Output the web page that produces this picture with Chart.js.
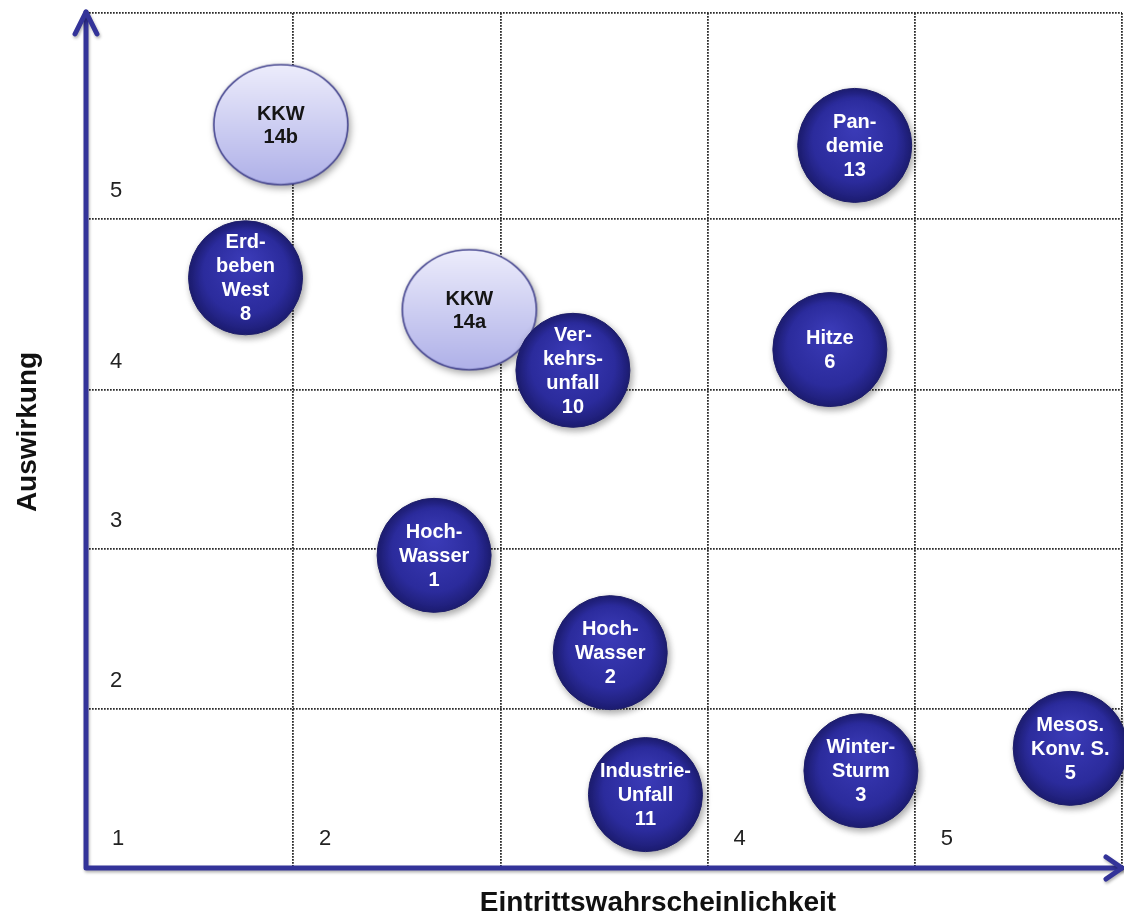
<!DOCTYPE html>
<html lang="de">
<head>
<meta charset="utf-8">
<title>Risikomatrix</title>
<script src="https://cdn.jsdelivr.net/npm/chart.js@4.4.1/dist/chart.umd.min.js"></script>
<style>
  html, body { margin: 0; padding: 0; background: #fff; }
</style>
</head>
<body>
<canvas id="riskChart" width="1124" height="923"></canvas>
<script>
// --- DATEN ---
const X_TICK_LABELS = ['1', '2', '', '4', '5'];   // die "3" fehlt im Original
const Y_TICK_LABELS = ['1', '2', '3', '4', '5'];
const COL_EDGES = [0, 1, 2, 3, 4, 5];
const ROW_EDGES = [0, 1, 2, 3, 4.07, 5.36];       // obere Zeilen sind höher

const RISK_LABELS = [
    ['Erd-', 'beben', 'West', '8'],
    ['Ver-', 'kehrs-', 'unfall', '10'],
    ['Pan-', 'demie', '13'],
    ['Hitze', '6'],
    ['Hoch-', 'Wasser', '1'],
    ['Hoch-', 'Wasser', '2'],
    ['Industrie-', 'Unfall', '11'],
    ['Winter-', 'Sturm', '3'],
    ['Mesos.', 'Konv. S.', '5']
];
const RISK_X = [0.77, 2.35, 3.71, 3.59, 1.68, 2.53, 2.70, 3.74, 4.75];
const RISK_Y = [3.70, 3.12, 4.53, 3.25, 1.96, 1.35, 0.46, 0.61, 0.75];

const KKW_LABELS = [['KKW', '14b'], ['KKW', '14a']];
const KKW_X = [0.94, 1.85];
const KKW_Y = [4.66, 3.50];

// --- STIL ---
const FONT = "'Liberation Sans', Arial, sans-serif";
const AXIS_BLUE = '#333399';

// helle Ellipse fuer die KKW-Szenarien
function makeEllipse(rx, ry) {
    const c = document.createElement('canvas');
    c.width = rx * 2 + 4;
    c.height = ry * 2 + 4;
    const g = c.getContext('2d');
    const grad = g.createLinearGradient(0, 0, 0, c.height);
    grad.addColorStop(0, '#eeeefc');
    grad.addColorStop(1, '#aeb0e8');
    g.beginPath();
    g.ellipse(c.width / 2, c.height / 2, rx, ry, 0, 0, Math.PI * 2);
    g.fillStyle = grad;
    g.fill();
    g.lineWidth = 1.6;
    g.strokeStyle = '#45458f';
    g.stroke();
    return c;
}
const kkwShape = makeEllipse(67, 60);

function darkFill(c) {
    const chart = c.chart;
    if (!c.raw || !chart.scales.x || !chart.scales.y) return '#2a2a96';
    const x = chart.scales.x.getPixelForValue(c.raw.x);
    const y = chart.scales.y.getPixelForValue(c.raw.y);
    if (!isFinite(x) || !isFinite(y)) return '#2a2a96';
    const g = chart.ctx.createRadialGradient(x, y - 18, 4, x, y, 58);
    g.addColorStop(0, '#3a3ab6');
    g.addColorStop(0.7, '#2b2b9c');
    g.addColorStop(1, '#1c1c70');
    return g;
}

// --- PLUGIN: Achsen, Beschriftungen ---
const matrixDeco = {
    id: 'matrixDeco',
    beforeDatasetsDraw(chart) {
        const { ctx, scales: { x, y } } = chart;
        // Zahlen in den Feldern
        ctx.save();
        ctx.font = '22px ' + FONT;
        ctx.fillStyle = '#222';
        ctx.textAlign = 'center';
        ctx.textBaseline = 'middle';
        X_TICK_LABELS.forEach((t, i) => {
            if (!t) return;
            ctx.fillText(t, x.getPixelForValue(COL_EDGES[i]) + 32, y.getPixelForValue(0) - 29);
        });
        Y_TICK_LABELS.forEach((t, i) => {
            if (i === 0) return;
            ctx.fillText(t, x.getPixelForValue(0) + 30, y.getPixelForValue(ROW_EDGES[i]) - 28);
        });
        ctx.restore();

        // Schatten fuer die Blasen (wird in afterDatasetsDraw zurueckgesetzt)
        ctx.save();
        ctx.shadowColor = 'rgba(0, 0, 0, 0.35)';
        ctx.shadowBlur = 7;
        ctx.shadowOffsetX = 2;
        ctx.shadowOffsetY = 3;
    },
    afterDatasetsDraw(chart) {
        const { ctx } = chart;
        ctx.restore();

        ctx.save();
        ctx.textAlign = 'center';
        ctx.textBaseline = 'middle';
        chart.data.datasets.forEach((ds, di) => {
            const meta = chart.getDatasetMeta(di);
            ctx.fillStyle = ds.textColor;
            ctx.font = 'bold 20px ' + FONT;
            meta.data.forEach((el, j) => {
                const lines = ds.lines[j];
                const lh = ds.lineHeight;
                const top = el.y - (lines.length - 1) * lh / 2;
                lines.forEach((l, k) => ctx.fillText(l, el.x, top + k * lh + 1));
            });
        });
        ctx.restore();
    },
    afterDraw(chart) {
        const { ctx, chartArea: a } = chart;
        ctx.save();
        ctx.strokeStyle = AXIS_BLUE;
        ctx.lineWidth = 5;
        ctx.lineCap = 'round';
        ctx.lineJoin = 'round';
        ctx.shadowColor = 'rgba(0, 0, 0, 0.3)';
        ctx.shadowBlur = 3;
        ctx.shadowOffsetX = 1;
        ctx.shadowOffsetY = 2;
        // Achsenlinien
        ctx.beginPath();
        ctx.moveTo(a.left, a.top - 1);
        ctx.lineTo(a.left, a.bottom);
        ctx.lineTo(a.right, a.bottom);
        ctx.stroke();
        // Pfeilspitzen
        ctx.beginPath();
        ctx.moveTo(a.left - 11, a.top + 21);
        ctx.lineTo(a.left, a.top - 1);
        ctx.lineTo(a.left + 11, a.top + 21);
        ctx.moveTo(a.right - 16, a.bottom - 11);
        ctx.lineTo(a.right, a.bottom);
        ctx.lineTo(a.right - 16, a.bottom + 11);
        ctx.stroke();
        ctx.restore();

        // Achsentitel
        ctx.save();
        ctx.fillStyle = '#111';
        ctx.font = 'bold 28px ' + FONT;
        ctx.textAlign = 'center';
        ctx.textBaseline = 'middle';
        ctx.fillText('Eintrittswahrscheinlichkeit', 658, 903);
        ctx.translate(28, 432);
        ctx.rotate(-Math.PI / 2);
        ctx.fillText('Auswirkung', 0, 0);
        ctx.restore();
    }
};

// --- DIAGRAMM ---
const ctx = document.getElementById('riskChart').getContext('2d');
new Chart(ctx, {
    type: 'bubble',
    data: {
        datasets: [
            {
                label: 'Risiken',
                data: RISK_X.map((v, i) => ({ x: v, y: RISK_Y[i] })),
                lines: RISK_LABELS,
                textColor: '#ffffff',
                lineHeight: 24,
                radius: 57,
                backgroundColor: darkFill,
                borderColor: '#1e1e6a',
                borderWidth: 1,
                clip: false,
                order: 1
            },
            {
                label: 'KKW',
                data: KKW_X.map((v, i) => ({ x: v, y: KKW_Y[i] })),
                lines: KKW_LABELS,
                textColor: '#151515',
                lineHeight: 23,
                radius: 62,
                pointStyle: kkwShape,
                clip: false,
                order: 2
            }
        ]
    },
    options: {
        responsive: false,
        animation: false,
        events: [],
        layout: { autoPadding: false, padding: { left: 86, top: 13, right: 2, bottom: 55 } },
        plugins: { legend: { display: false }, tooltip: { enabled: false } },
        scales: {
            x: {
                type: 'linear',
                min: 0,
                max: 5,
                afterBuildTicks: s => { s.ticks = COL_EDGES.map(v => ({ value: v })); },
                ticks: { display: false },
                grid: { color: '#2a2a2a', lineWidth: 1.8, drawTicks: false },
                border: { display: false, dash: [1.7, 1.3] }
            },
            y: {
                type: 'linear',
                min: 0,
                max: ROW_EDGES[ROW_EDGES.length - 1],
                afterBuildTicks: s => { s.ticks = ROW_EDGES.map(v => ({ value: v })); },
                ticks: { display: false },
                grid: { color: '#2a2a2a', lineWidth: 1.8, drawTicks: false },
                border: { display: false, dash: [1.7, 1.3] }
            }
        }
    },
    plugins: [matrixDeco]
});
</script>
</body>
</html>
